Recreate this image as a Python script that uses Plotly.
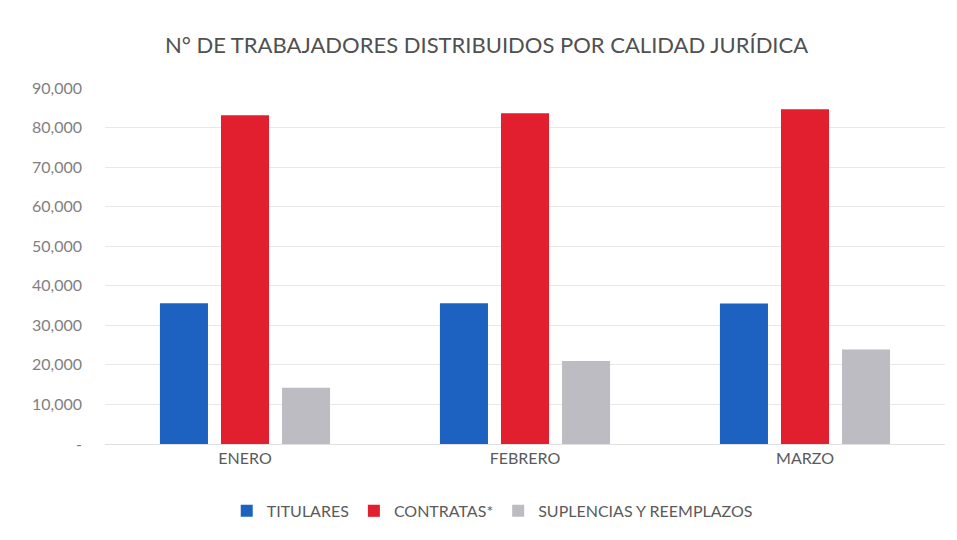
import plotly.graph_objects as go

months = ["ENERO", "FEBRERO", "MARZO"]
titulares = [35600, 35600, 35500]
contratas = [83100, 83600, 84600]
suplencias = [14200, 21000, 23900]

tick_vals = [0, 10000, 20000, 30000, 40000, 50000, 60000, 70000, 80000, 90000]
tick_text = ["-", "10,000", "20,000", "30,000", "40,000", "50,000",
             "60,000", "70,000", "80,000", "90,000"]

series = [
    ("TITULARES", titulares, "#1d62c0"),
    ("CONTRATAS*", contratas, "#e21f2e"),
    ("SUPLENCIAS Y REEMPLAZOS", suplencias, "#bcbcc2"),
]

fig = go.Figure()
for name, vals, col in series:
    fig.add_trace(go.Bar(x=months, y=vals, name=name, marker_color=col,
                         marker_line_width=0))

font_family = "Lato, Open Sans, sans-serif"
fig.update_layout(
    width=957, height=540,
    paper_bgcolor="white", plot_bgcolor="white",
    margin=dict(l=97, r=20, t=80, b=104),
    barmode="group", bargap=0.346, bargroupgap=0.213,
    title=dict(text="N° DE TRABAJADORES DISTRIBUIDOS POR CALIDAD JURÍDICA",
               x=0.5, xanchor="center", y=0.931, yanchor="middle",
               font=dict(family=font_family, size=22, color="#505050")),
    font=dict(family=font_family, color="#6e6e6e", size=16),
    legend=dict(orientation="h", x=0.461, xanchor="center", y=-0.188,
                yanchor="middle", font=dict(size=16, color="#5a5a5a"),
                itemwidth=30, traceorder="normal"),
    xaxis=dict(showgrid=False, showline=True, linecolor="#e0e0e0",
               ticks="", tickfont=dict(size=16, color="#5a5a5a")),
    yaxis=dict(range=[0, 90000], tickvals=tick_vals, ticktext=tick_text,
               showgrid=True, gridcolor="#e8e8e8", zeroline=False,
               ticks="", ticklabelstandoff=22,
               tickfont=dict(size=16, color="#7f7f7f")),
)

fig.write_html("out.html")
